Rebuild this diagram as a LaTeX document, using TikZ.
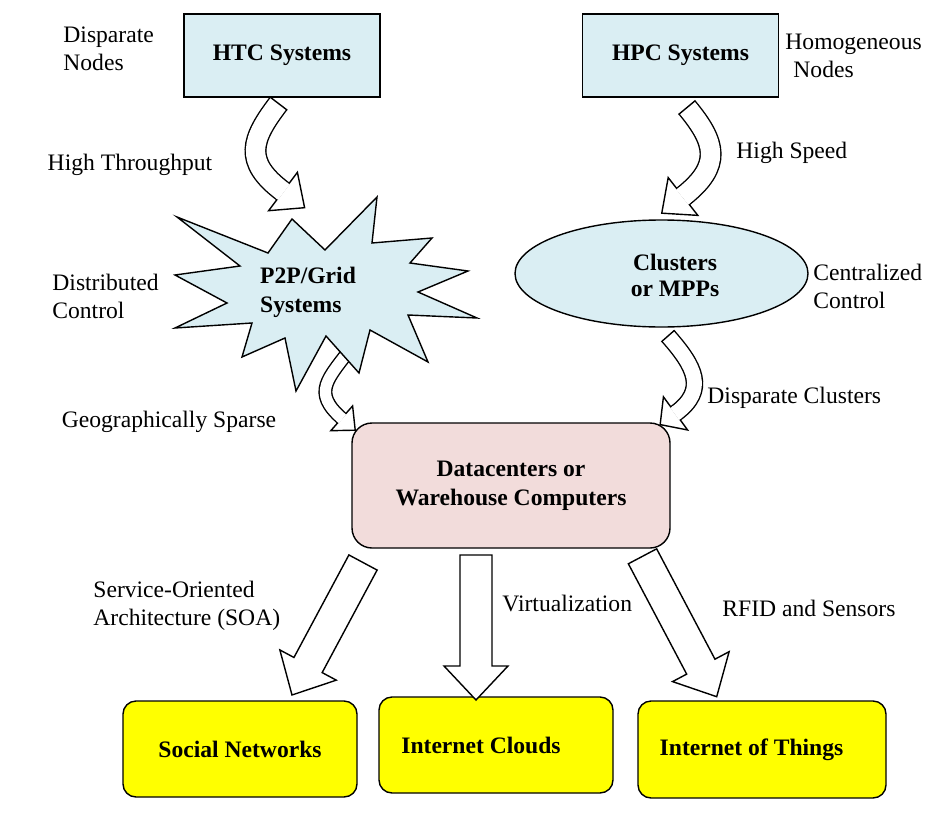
\documentclass[tikz,border=0pt]{standalone}
\usepackage{fontspec}
\setmainfont{Liberation Serif}
\usetikzlibrary{calc,shapes.geometric}
\definecolor{paleblue}{HTML}{DAEEF3}
\definecolor{palepink}{HTML}{F2DCDB}
\definecolor{brightyellow}{HTML}{FFFF00}
\tikzset{
  lbl/.style={font=\fontsize{11.8pt}{14pt}\selectfont, inner sep=0pt, align=left},
  boxtxt/.style={font=\fontsize{11.8pt}{14.5pt}\selectfont\bfseries, inner sep=0pt, align=center},
  sysbox/.style={draw, line width=0.7pt, fill=paleblue, minimum width=98pt, minimum height=41.5pt, boxtxt},
  dcbox/.style={draw, line width=0.7pt, fill=palepink, rounded corners=10pt, minimum width=159pt, minimum height=62.5pt, boxtxt},
  appbox/.style={draw, line width=0.7pt, fill=brightyellow, rounded corners=6.5pt, minimum width=117pt, minimum height=48pt, boxtxt}
}
% bent block arrow: tail, control, control, head base, outer width, inner width, half head, head length
\newcommand{\bentarrow}[8]{%
  \draw[double=white, double distance=#6, line width=0.7pt] (#1) .. controls (#2) and (#3) .. (#4);
  \draw[line width=0.7pt] ($(#1)!#5/2!90:(#2)$) -- ($(#1)!#5/2!-90:(#2)$);
  \filldraw[fill=white, line width=0.7pt] ($(#4)!#7!90:(#3)$) -- ($(#4)!-#8!(#3)$) -- ($(#4)!#7!-90:(#3)$) -- cycle;
  \draw[white, line width=#6] ($(#4)!1pt!(#3)$) -- ($(#4)!-0.5pt!(#3)$);
}
% straight block arrow: tail, tip, half shaft, half head, head length
\newcommand{\blockarrow}[5]{%
  \coordinate (hb) at ($(#2)!#5!(#1)$);
  \filldraw[fill=white, line width=0.7pt] ($(#1)!#3!90:(#2)$) -- ($(hb)!#3!90:(#2)$) -- ($(hb)!#4!90:(#2)$)
    -- (#2) -- ($(hb)!#4!-90:(#2)$) -- ($(hb)!#3!-90:(#2)$) -- ($(#1)!#3!-90:(#2)$) -- cycle;
}
\begin{document}
\begin{tikzpicture}[x=0.5pt, y=-0.5pt]
\fill[white] (0,0) rectangle (952,829);
\useasboundingbox (0,0) rectangle (952,829);
% top systems
\node[sysbox] (htc) at (282,55.5) {HTC Systems};
\node[sysbox] (hpc) at (680.5,55.5) {HPC Systems};
% datacenters and applications
\node[dcbox] (dc) at (511,485.5) {Datacenters or\\Warehouse Computers};
\node[appbox] (soc) at (240,749) {Social Networks};
\node[appbox] (cld) at (496,745) {};
\node[boxtxt] (cldTxt) at (481,745) {Internet Clouds};
\node[appbox, minimum width=124pt, minimum height=48.5pt] (iot) at (762,749.5) {};
\node[boxtxt] (iotTxt) at (751.5,750) {Internet of Things};
% grid arrow, tail hidden under the burst
\coordinate (p2pTail) at (351,348);
\coordinate (dcLeft) at (341.7,418.3);
\bentarrow{p2pTail}{328,379}{311.7,391.9}{dcLeft}{7pt}{5.6pt}{8.25pt}{9pt}
% burst
\draw[line width=0.7pt, fill=paleblue] (177,217) -- (268,253) -- (292,219) -- (325,250) -- (377,197)
  -- (372,243) -- (432,238) -- (410,263) -- (468,271) -- (418,292) -- (477,318) -- (408,315)
  -- (428,362) -- (370,330) -- (359,373) -- (326,336) -- (296,391) -- (285,338) -- (242,357)
  -- (252,323) -- (175,328) -- (227,303) -- (175,275) -- (240,266) -- cycle;
\node[boxtxt, align=left] (p2p) at (308,292.5) {P2P/Grid\\Systems};
% clusters
\node[draw, ellipse, fill=paleblue, line width=0.7pt, minimum width=146.5pt, minimum height=53.5pt, inner sep=0pt] (clu) at (661.5,273.5) {};
\node[boxtxt, font=\fontsize{11.8pt}{13pt}\selectfont\bfseries] (cluTxt) at (675,275) {Clusters\\or MPPs};
% bent arrows
\coordinate (htcTail) at (278.5,103.5);
\coordinate (p2pTop) at (283,191.5);
\bentarrow{htcTail}{251.2,139.2}{243,161.5}{p2pTop}{11pt}{9.6pt}{12pt}{13.5pt}
\coordinate (hpcTail) at (687,107.5);
\coordinate (cluTop) at (683,196.5);
\bentarrow{hpcTail}{715.8,142.2}{722.5,165.5}{cluTop}{11pt}{9.6pt}{12pt}{13.5pt}
\coordinate (cluTail) at (668,336);
\coordinate (dcRight) at (675.5,413.4);
\bentarrow{cluTail}{694.4,366}{707.9,389.8}{dcRight}{8.8pt}{7.4pt}{10.25pt}{9.5pt}
% straight arrows
\coordinate (socTail) at (363,562.5);
\coordinate (socTip) at (292,695);
\blockarrow{socTail}{socTip}{8pt}{16pt}{17pt}
\coordinate (cldTail) at (476,555);
\coordinate (cldTip) at (476,700);
\blockarrow{cldTail}{cldTip}{8pt}{16pt}{17pt}
\coordinate (iotTail) at (642.5,556.3);
\coordinate (iotTip) at (716.7,696.7);
\blockarrow{iotTail}{iotTip}{8pt}{16pt}{17pt}
% labels
\node[lbl, anchor=west] (dispNodes) at (63,49) {Disparate\\Nodes};
\node[lbl, anchor=west] (homoNodes) at (785,56) {Homogeneous\\\hspace{4pt}Nodes};
\node[lbl] (highThru) at (130,165) {High Throughput};
\node[lbl, anchor=west] (highSpeed) at (736,153) {High Speed};
\node[lbl, anchor=west] (distCtrl) at (52,296.5) {Distributed\\Control};
\node[lbl, anchor=west] (centCtrl) at (813,286) {Centralized\\Control};
\node[lbl] (geoSparse) at (169,422) {Geographically Sparse};
\node[lbl, anchor=west] (dispClus) at (707,398) {Disparate Clusters};
\node[lbl, anchor=west] (soa) at (93,606) {Service-Oriented\\Architecture (SOA)};
\node[lbl, anchor=west] (virt) at (502,603) {Virtualization};
\node[lbl, anchor=west] (rfid) at (722,608) {RFID and Sensors};
\end{tikzpicture}
\end{document}
